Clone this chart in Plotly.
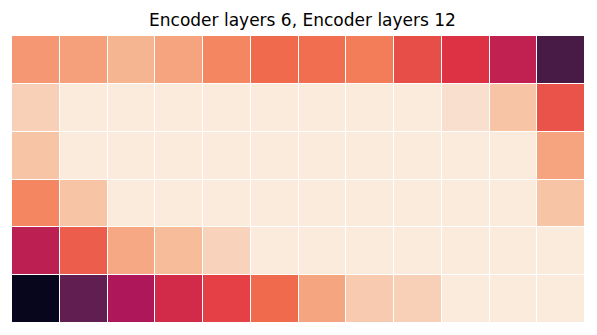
import plotly.graph_objects as go

title = "Encoder layers 6, Encoder layers 12"
cols = list(range(12))
rows = list(range(6))

row0 = [0.21, 0.19, 0.14, 0.18, 0.25, 0.31, 0.30, 0.27, 0.37, 0.44, 0.52, 0.81]
row1 = [0.07, 0.0, 0.0, 0.0, 0.0, 0.0, 0.0, 0.0, 0.0, 0.03, 0.10, 0.36]
row2 = [0.10, 0.0, 0.0, 0.0, 0.0, 0.0, 0.0, 0.0, 0.0, 0.0, 0.0, 0.18]
row3 = [0.25, 0.10, 0.0, 0.0, 0.0, 0.0, 0.0, 0.0, 0.0, 0.0, 0.0, 0.10]
row4 = [0.53, 0.34, 0.17, 0.12, 0.065, 0.0, 0.0, 0.0, 0.0, 0.0, 0.0, 0.0]
row5 = [0.99, 0.75, 0.57, 0.47, 0.40, 0.31, 0.175, 0.085, 0.07, 0.0, 0.0, 0.0]

z = [row0, row1, row2, row3, row4, row5]

# seaborn "rocket" reversed (light -> dark)
rocket_r = [
    [0.0, "#FAEBDD"],
    [1/7, "#F6B48F"],
    [2/7, "#F37651"],
    [3/7, "#E13342"],
    [4/7, "#AD1759"],
    [5/7, "#701F57"],
    [6/7, "#35193E"],
    [1.0, "#03051A"],
]

fig = go.Figure(go.Heatmap(
    z=z, x=cols, y=rows,
    colorscale=rocket_r, zmin=0, zmax=1,
    showscale=False, xgap=1, ygap=1,
    hoverongaps=False,
))

# page body has an 8px default margin; compensate in figure size/margins
fig.update_layout(
    width=589, height=327,
    margin=dict(l=4, r=12, t=28, b=12),
    paper_bgcolor="white", plot_bgcolor="white",
    title=dict(text=title, x=0.5, xanchor="center", y=1 - 12/327, yanchor="middle",
               font=dict(family="DejaVu Sans", size=17, color="black")),
    xaxis=dict(visible=False, range=[-0.5, 11.5]),
    yaxis=dict(visible=False, range=[5.5, -0.5]),
)

fig.write_html("out.html")
